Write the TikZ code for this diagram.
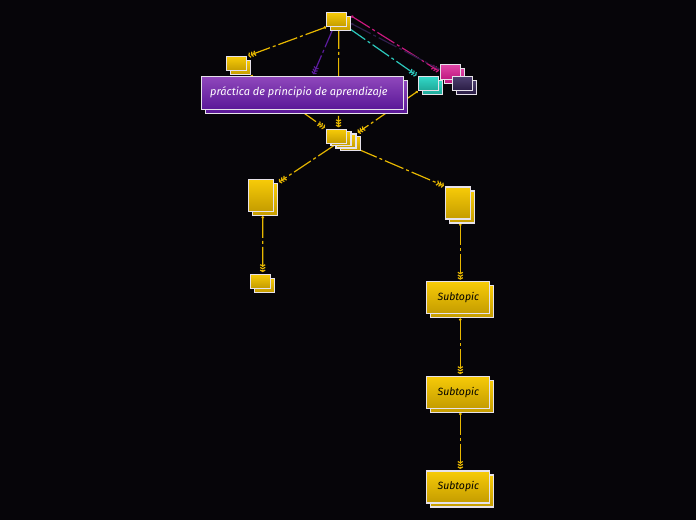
\documentclass[tikz,border=0pt]{standalone}
\usepackage{fontspec}
\setmainfont{Fira Sans}
\usetikzlibrary{arrows.meta}
\pgfdeclarelayer{lines}
\pgfsetlayers{lines,main}
\definecolor{bg}{HTML}{060509}
\definecolor{bord}{HTML}{E6E2EA}
\definecolor{ytop}{HTML}{F7CB08}
\definecolor{ybot}{HTML}{C49C00}
\definecolor{yline}{HTML}{E8B800}
\definecolor{ptop}{HTML}{9048BC}
\definecolor{pbot}{HTML}{5A1898}
\definecolor{pline}{HTML}{5C1C9E}
\definecolor{ttop}{HTML}{32D8C8}
\definecolor{tbot}{HTML}{1FA898}
\definecolor{tline}{HTML}{2CC8BC}
\definecolor{ktop}{HTML}{E048A8}
\definecolor{kbot}{HTML}{C01880}
\definecolor{kline}{HTML}{C8187E}
\definecolor{dtop}{HTML}{4E4070}
\definecolor{dbot}{HTML}{2A1D45}
\definecolor{dline}{HTML}{2E1E4A}
\tikzset{
  basebox/.style={draw=bord, line width=1.1pt, rectangle, inner sep=0pt},
  ybox/.style={basebox, top color=ytop, bottom color=ybot},
  pbox/.style={basebox, top color=ptop, bottom color=pbot},
  tbox/.style={basebox, top color=ttop, bottom color=tbot},
  kbox/.style={basebox, top color=ktop, bottom color=kbot},
  dbox/.style={basebox, top color=dtop, bottom color=dbot},
  sm/.style={minimum width=20pt, minimum height=14pt},
  tall/.style={minimum width=25pt, minimum height=32pt},
  sub/.style={minimum width=63pt, minimum height=32pt, font=\itshape\fontsize{10.5}{12}\selectfont, text=black},
  conn/.style={line width=1.2pt, dash pattern=on 20pt off 3pt on 3pt off 3pt,
    {Circle[length=2.5pt]}-{Straight Barb[length=1.4pt,width=5pt]Straight Barb[length=1.4pt,width=5pt]Straight Barb[length=1.4pt,width=5pt]},
    shorten >=1.5pt},
}
\begin{document}
\begin{tikzpicture}[x=1pt,y=-1pt]
\begin{pgfonlayer}{lines}
\fill[bg] (0,0) rectangle (696,520);
\end{pgfonlayer}
\useasboundingbox (0,0) rectangle (696,520);

% ---------- nodes (back copies first) ----------
\node[ybox,sm] (Tb) at (340.7,23.5) {};
\node[ybox,sm] (T) at (336.7,19.5) {};

\node[ybox,sm] (Lb) at (240.3,67.8) {};
\node[ybox,sm] (L) at (236.3,63.8) {};

\node[kbox,minimum width=20pt,minimum height=15pt] (Kb) at (454.7,75.8) {};
\node[kbox,minimum width=20pt,minimum height=15pt] (K) at (450.7,71.8) {};

\node[tbox,sm] (Cb) at (432.3,87.7) {};
\node[tbox,sm] (C) at (428.3,83.7) {};

\node[dbox,sm] (Db) at (466.5,87.3) {};
\node[dbox,sm] (D) at (462.5,83.3) {};

\node[ybox,sm] (M3) at (350.5,143.3) {};
\node[ybox,sm] (M2) at (346,141) {};
\node[ybox,sm] (M1) at (341,138.8) {};
\node[ybox,sm] (M) at (336.5,136.3) {};

\node[ybox,tall] (LTb) at (264.8,199.5) {};
\node[ybox,tall] (LT) at (260.8,195.5) {};

\node[ybox,tall] (RTb) at (462.3,207) {};
\node[ybox,tall] (RT) at (458.3,203) {};

\node[ybox,sm] (BSb) at (264.7,285.2) {};
\node[ybox,sm] (BS) at (260.7,281.2) {};

\node[ybox,sub] (S1b) at (462.3,301.8) {};
\node[ybox,sub] (S1) at (458.3,297.8) {Subtopic};
\node[ybox,sub] (S2b) at (462.3,396.2) {};
\node[ybox,sub] (S2) at (458.3,392.2) {Subtopic};
\node[ybox,sub] (S3b) at (462.3,491) {};
\node[ybox,sub] (S3) at (458.3,487) {Subtopic};

% ---------- main purple topic ----------
\node[pbox,minimum width=202pt,minimum height=33pt] (Pb) at (306.8,96.7) {};
\node[pbox,minimum width=202pt,minimum height=33pt] (P) at (302.8,92.7) {};
\node[anchor=west,text=white,font=\itshape\fontsize{11}{13}\selectfont,inner sep=0pt] (Pt) at (210,92) {práctica de principio de aprendizaje};

% ---------- connectors (behind the nodes) ----------
\begin{pgfonlayer}{lines}
\draw[conn,yline] (T.south west) -- (L.north east);
\draw[conn,yline] ([xshift=2pt]T.south) -- ([xshift=2pt]M.north);
\draw[conn,yline] (Lb.south east) -- (M.north west);
\draw[conn,yline] (C.south west) -- (M2.north east);
\draw[conn,pline] ([xshift=-3pt]T.south) -- ([xshift=10pt]P.north);
\draw[conn,tline] (T.south east) -- (C.north west);
\draw[conn,kline] (Tb.north east) -- (K.west);
\draw[conn,dline] (Tb.east) -- (D.north west);
\draw[conn,yline] (M.south) -- (LTb.north east);
\draw[conn,yline] (M2.south east) -- (RT.north west);
\draw[conn,yline] ([xshift=2pt]LTb.south west -| LT.south) -- ([xshift=2pt]BS.north);
\draw[conn,yline] ([xshift=2pt]RTb.south west -| RT.south) -- ([xshift=2pt]S1.north);
\draw[conn,yline] ([xshift=2pt]S1b.south west -| S1.south) -- ([xshift=2pt]S2.north);
\draw[conn,yline] ([xshift=2pt]S2b.south west -| S2.south) -- ([xshift=2pt]S3.north);
\end{pgfonlayer}
\end{tikzpicture}
\end{document}
